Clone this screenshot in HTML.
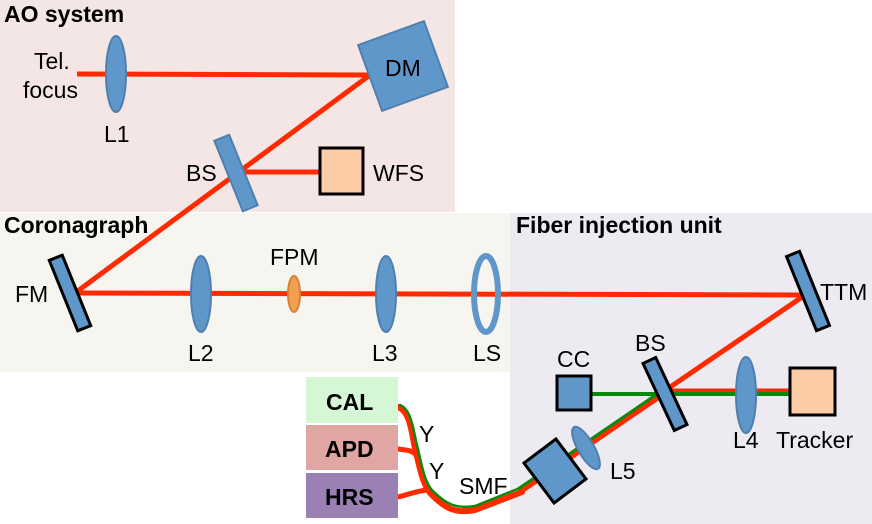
<!DOCTYPE html>
<html><head><meta charset="utf-8"><style>
body{margin:0;background:#fff}
svg{display:block}
text{font-family:"Liberation Sans",sans-serif;font-size:23px;fill:#000}
.b{font-weight:bold}
</style></head><body>
<svg width="872" height="524" viewBox="0 0 872 524">
<rect x="0" y="0" width="455" height="212" fill="#f5e6e6"/>
<rect x="0" y="213" width="510" height="159" fill="#f6f5f0"/>
<rect x="510" y="213" width="362" height="311" fill="#edeaf2"/>
<text x="4" y="22" class="b" font-size="24">AO system</text>
<text x="4" y="233" class="b" font-size="24">Coronagraph</text>
<text x="516" y="233" class="b" font-size="24">Fiber injection unit</text>

<g stroke="#ff2a00" stroke-width="5" fill="none">
<line x1="77" y1="74" x2="370" y2="75"/>
<line x1="370" y1="75" x2="75" y2="293"/>
<line x1="240" y1="172" x2="320" y2="172"/>
<line x1="75" y1="293" x2="805" y2="295"/>
<line x1="805" y1="295" x2="660" y2="394"/>
<line x1="662" y1="391" x2="790" y2="391"/>
</g>
<line x1="591" y1="394" x2="790" y2="394" stroke="#0a8a0a" stroke-width="4"/>
<line x1="662" y1="395" x2="520" y2="492" stroke="#ff2a00" stroke-width="5"/>
<line x1="660" y1="392" x2="518" y2="489" stroke="#0a8a0a" stroke-width="3"/>

<g fill="none" stroke-linecap="round">
<path d="M398,407 C412,412 412,440 416,452 C420,470 424,488 432,495 C445,508 455,514 475,510 L522,492" stroke="#ff2a00" stroke-width="6"/>
<path d="M398,449 C406,450 412,450 416,455" stroke="#ff2a00" stroke-width="5"/>
<path d="M398,497 C410,494 420,490 430,490" stroke="#ff2a00" stroke-width="5"/>
<path d="M400,405 C413,410 414,437 418,449 C422,468 426,486 434,492 C446,504 456,509 475,506 L520,488" stroke="#0a8a0a" stroke-width="2.5"/>
</g>

<ellipse cx="116" cy="74" rx="10" ry="38" fill="#6097cb" stroke="#4f7fad" stroke-width="2"/>
<g transform="translate(403,66) rotate(-20)"><rect x="-35" y="-35" width="70" height="70" fill="#6097cb" stroke="#4f7fad" stroke-width="2"/></g>
<text x="385" y="76">DM</text>
<g transform="translate(236,173) rotate(-22)"><rect x="-8" y="-38" width="16" height="76" fill="#6097cb" stroke="#4f7fad" stroke-width="2"/></g>
<rect x="320" y="148" width="43" height="46" fill="#fbcca5" stroke="#000" stroke-width="3"/>
<text x="373" y="181">WFS</text>
<text x="186" y="181">BS</text>
<text x="34" y="69">Tel.</text>
<text x="23" y="98">focus</text>
<text x="104" y="142">L1</text>

<g transform="translate(70,293) rotate(-22)"><rect x="-7" y="-38" width="14" height="76" fill="#6097cb" stroke="#000" stroke-width="3"/></g>
<text x="15" y="302">FM</text>
<ellipse cx="201" cy="294" rx="10" ry="38" fill="#6097cb" stroke="#4f7fad" stroke-width="2"/>
<ellipse cx="294" cy="294" rx="6" ry="18" fill="#f0a050" stroke="#d98030" stroke-width="2"/>
<ellipse cx="386" cy="294" rx="10" ry="38" fill="#6097cb" stroke="#4f7fad" stroke-width="2"/>
<ellipse cx="486" cy="294" rx="12" ry="38" fill="none" stroke="#6097cb" stroke-width="6"/>
<text x="188" y="361">L2</text>
<text x="270" y="265">FPM</text>
<text x="372" y="361">L3</text>
<text x="473" y="361">LS</text>

<g transform="translate(808,291) rotate(-22)"><rect x="-7" y="-40" width="14" height="80" fill="#6097cb" stroke="#000" stroke-width="3"/></g>
<text x="820" y="300">TTM</text>
<g transform="translate(665,394) rotate(-25)"><rect x="-7" y="-37" width="14" height="74" fill="#6097cb" stroke="#000" stroke-width="3"/></g>
<text x="635" y="351">BS</text>
<rect x="557" y="376" width="34" height="34" fill="#6097cb" stroke="#000" stroke-width="3"/>
<text x="557" y="367">CC</text>
<ellipse cx="746" cy="395" rx="10" ry="38" fill="#6097cb" stroke="#4f7fad" stroke-width="2"/>
<rect x="790" y="368" width="45" height="47" fill="#fbcca5" stroke="#000" stroke-width="3"/>
<text x="733" y="448">L4</text>
<text x="776" y="448">Tracker</text>
<g transform="translate(586,448) rotate(-30)"><ellipse cx="0" cy="0" rx="8" ry="24" fill="#6097cb" stroke="#4f7fad" stroke-width="2"/></g>
<g transform="translate(555,471) rotate(-37)"><rect x="-20" y="-25" width="40" height="50" fill="#6097cb" stroke="#000" stroke-width="3"/></g>
<text x="610" y="479">L5</text>

<rect x="306" y="377" width="92" height="46" fill="#d6f7d6"/>
<rect x="306" y="425" width="92" height="45" fill="#e0a6a4"/>
<rect x="306" y="473" width="92" height="45" fill="#9b80b4"/>
<text x="326" y="410" class="b" font-size="25">CAL</text>
<text x="325" y="457" class="b" font-size="25">APD</text>
<text x="325" y="505" class="b" font-size="25">HRS</text>
<text x="419" y="442">Y</text>
<text x="429" y="479">Y</text>
<text x="459" y="494">SMF</text>
</svg>
</body></html>
